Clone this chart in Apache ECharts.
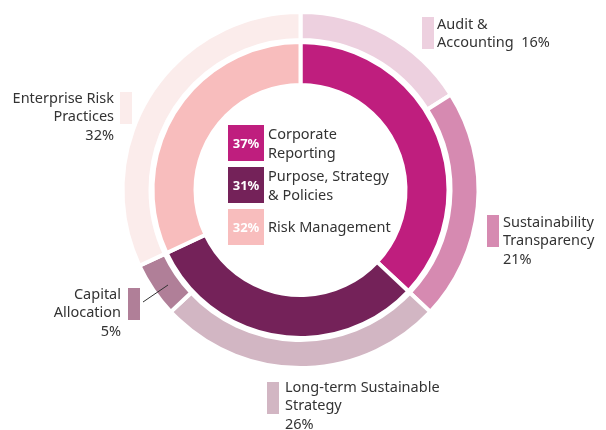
<!DOCTYPE html>
<html><head><meta charset="utf-8">
<script src="https://cdn.jsdelivr.net/npm/echarts@6/dist/echarts.min.js"></script>
<style>html,body{margin:0;padding:0;background:#fff}#c{width:606px;height:430px}</style>
</head><body><div id="c"></div>
<script>
const innerNames = ['Corporate\nReporting', 'Purpose, Strategy\n& Policies', 'Risk Management'];
const innerValues = [37, 31, 32];
const innerColors = ['#bf1e7e', '#742259', '#f8bdbd'];

const outerNames = ['Audit &\nAccounting', 'Sustainability\nTransparency', 'Long-term Sustainable\nStrategy', 'Capital\nAllocation', 'Enterprise Risk\nPractices'];
const outerValues = [16, 21, 26, 5, 32];
const outerColors = ['#edd0df', '#d68ab1', '#d2b6c3', '#b07f98', '#fbeceb'];

const chart = echarts.init(document.getElementById('c'), null, {renderer: 'canvas'});
const font = '"Noto Sans", Lato, sans-serif';
const txt = '#333333';

const g = [];
// center legend
const boxY = [125, 167, 209];
innerNames.forEach((n, i) => {
  g.push({type: 'rect', shape: {x: 228, y: boxY[i], width: 36, height: 36}, style: {fill: innerColors[i]}});
  g.push({type: 'text', style: {x: 246, y: boxY[i] + 19, text: innerValues[i] + '%', fill: '#fff', font: 'bold 13px ' + font, align: 'center', verticalAlign: 'middle'}});
  g.push({type: 'text', style: {x: 268, y: boxY[i] + 19, text: n, fill: txt, font: '14.5px ' + font, lineHeight: 19, align: 'left', verticalAlign: 'middle'}});
});
// outer labels
const lab = [
  {box: [422, 17], tx: 437, ty: 34, align: 'left', text: outerNames[0].split('\n')[0] + '\n' + outerNames[0].split('\n')[1] + '  ' + outerValues[0] + '%'},
  {box: [487, 215], tx: 503, ty: 241, align: 'left', text: outerNames[1] + '\n' + outerValues[1] + '%'},
  {box: [267, 382], tx: 285, ty: 406, align: 'left', text: outerNames[2] + '\n' + outerValues[2] + '%'},
  {box: [128, 288], tx: 121, ty: 313, align: 'right', text: outerNames[3] + '\n' + outerValues[3] + '%'},
  {box: [120, 92], tx: 114, ty: 117, align: 'right', text: outerNames[4] + '\n' + outerValues[4] + '%'}
];
lab.forEach((l, i) => {
  g.push({type: 'rect', shape: {x: l.box[0], y: l.box[1], width: 12, height: 32}, style: {fill: outerColors[i]}});
  g.push({type: 'text', style: {x: l.tx, y: l.ty, text: l.text, fill: txt, font: '14.5px ' + font, lineHeight: 18.5, align: l.align, verticalAlign: 'middle'}});
});
g.push({type: 'line', z: 100, shape: {x1: 143, y1: 302, x2: 168, y2: 285}, style: {stroke: '#333', lineWidth: 1}});

chart.setOption({
  animation: false,
  series: [
    {
      type: 'pie', center: [300.5, 190], radius: [105, 148], startAngle: 90, clockwise: true,
      label: {show: false}, labelLine: {show: false}, silent: true,
      itemStyle: {borderColor: '#fff', borderWidth: 4},
      data: innerNames.map((n, i) => ({name: n, value: innerValues[i], itemStyle: {color: innerColors[i]}}))
    },
    {
      type: 'pie', center: [300.5, 190], radius: [150, 178], startAngle: 90, clockwise: true,
      label: {show: false}, labelLine: {show: false}, silent: true,
      itemStyle: {borderColor: '#fff', borderWidth: 4},
      data: outerNames.map((n, i) => ({name: n, value: outerValues[i], itemStyle: {color: outerColors[i]}}))
    }
  ],
  graphic: g
});
</script></body></html>
